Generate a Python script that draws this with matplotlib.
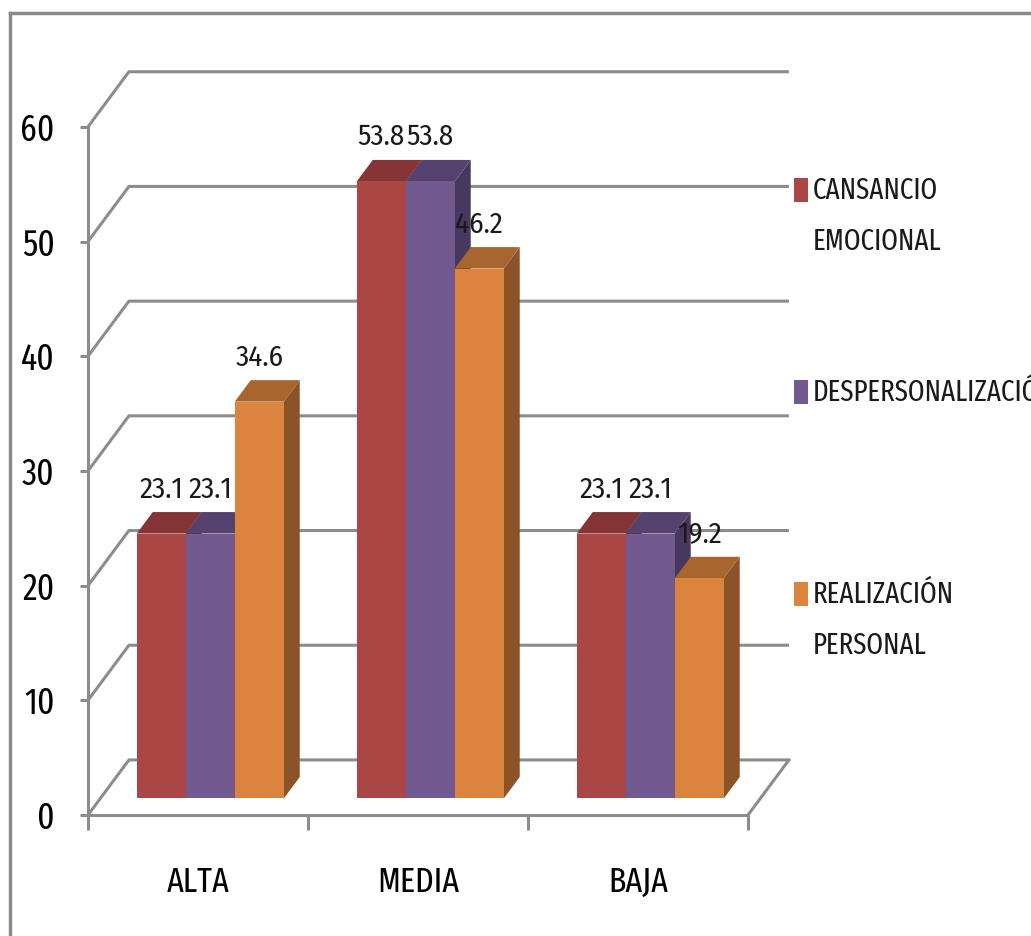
import matplotlib.pyplot as plt
from matplotlib.patches import Polygon, Rectangle
from matplotlib.lines import Line2D

# data
categories = ['ALTA', 'MEDIA', 'BAJA']
series_names = ['CANSANCIO\nEMOCIONAL', 'DESPERSONALIZACIÓN', 'REALIZACIÓN\nPERSONAL']
cansancio = [23.1, 53.8, 23.1]
despersonalizacion = [23.1, 53.8, 23.1]
realizacion = [34.6, 46.2, 19.2]
y_ticks = [0, 10, 20, 30, 40, 50, 60]

series = [cansancio, despersonalizacion, realizacion]
front_colors = ['#AA4643', '#71588F', '#DB843D']
top_colors = ['#853535', '#56426F', '#A9652E']
side_colors = ['#6E2B2A', '#48375E', '#8C5328']
grid_color = '#8C8C8C'

plt.rcParams['font.family'] = ['Fira Sans Extra Condensed', 'DejaVu Sans']
plt.rcParams['text.color'] = '#1A1A1A'
label_font = ['Fira Sans Condensed', 'DejaVu Sans']

W, H = 1031, 936
fig = plt.figure(figsize=(W / 100, H / 100), dpi=100)

# axes placed so data (0,0) sits on the front-left floor corner
x0px, y0px, x1px, y1px = 88, 815, 790, 72
ax = fig.add_axes([x0px / W, 1 - y0px / H, (x1px - x0px) / W, (y0px - y1px) / H])
ax.set_xlim(0, (x1px - x0px) / 220)
ax.set_ylim(0, (y0px - y1px) / 11.47)

# depth of the 3d box (in data units) and where the bars sit inside it
DX, DY = 0.186, 4.8
f0, f1 = 0.30, 0.69
bar_w = 0.2227

# back wall gridlines + floor
for v in y_ticks:
    ax.plot([0, DX, 3 + DX], [v, v + DY, v + DY], color=grid_color, lw=2.2, zorder=1,
            clip_on=False, solid_capstyle='butt')
ax.plot([3, 3 + DX], [0, DY], color=grid_color, lw=2.2, zorder=1, clip_on=False)

# spines / ticks
for s in ['top', 'right']:
    ax.spines[s].set_visible(False)
ax.spines['left'].set_bounds(0, 60)
ax.spines['bottom'].set_bounds(0, 3)
for s in ['left', 'bottom']:
    ax.spines[s].set_color(grid_color)
    ax.spines[s].set_linewidth(2.2)
    ax.spines[s].set_zorder(1)
ax.set_yticks(y_ticks)
ax.set_yticklabels([str(t) for t in y_ticks], fontsize=26)
ax.tick_params(axis='y', length=6, width=2.2, color=grid_color, pad=18)
ax.set_xticks([0, 1, 2, 3])
ax.set_xticklabels([])
ax.tick_params(axis='x', which='major', length=11, width=2.2, color=grid_color)
ax.set_xticks([0.5, 1.5, 2.5], minor=True)
ax.set_xticklabels(categories, minor=True, fontsize=25)
ax.tick_params(axis='x', which='minor', length=0, pad=36)
ax.patch.set_visible(False)

# 3d-looking bars
for i, cat in enumerate(categories):
    start = i + 0.5 - 1.5 * bar_w
    for j, vals in enumerate(series):
        v = vals[i]
        xl = start + j * bar_w + f0 * DX
        xr = xl + bar_w
        yb = f0 * DY
        ddx, ddy = (f1 - f0) * DX, (f1 - f0) * DY
        side = Polygon([(xr, yb), (xr, yb + v), (xr + ddx, yb + v + ddy), (xr + ddx, yb + ddy)],
                       closed=True, facecolor=side_colors[j], edgecolor='none', zorder=2)
        ax.add_patch(side)
        top = Polygon([(xl, yb + v), (xr, yb + v), (xr + ddx, yb + v + ddy), (xl + ddx, yb + v + ddy)],
                      closed=True, facecolor=top_colors[j], edgecolor='none', zorder=2)
        ax.add_patch(top)
        ax.bar(xl + bar_w / 2, v, width=bar_w, bottom=yb, color=front_colors[j],
               edgecolor='none', zorder=2)
        ax.text(xl + bar_w / 2, v + f1 * DY + 0.75, f'{v:.1f}', ha='center', va='bottom',
                fontsize=21, family=label_font, zorder=5)

# legend drawn by hand, like the original
leg_y = [190, 392, 594]
for name, col, yc in zip(series_names, front_colors, leg_y):
    fig.patches.append(Rectangle((794 / W, 1 - (yc + 12) / H), 14 / W, 24 / H,
                                 transform=fig.transFigure, facecolor=col, edgecolor='none'))
    fig.text(813 / W, 1 - (yc - 14) / H, name, ha='left', va='top', fontsize=21,
             linespacing=2.0)

# outer chart border
fig.lines.append(Line2D([10 / W, 10 / W], [0, 1 - 13 / H], transform=fig.transFigure,
                        color='#8A8A8A', lw=2.5))
fig.lines.append(Line2D([10 / W, 1], [1 - 13 / H, 1 - 13 / H], transform=fig.transFigure,
                        color='#8A8A8A', lw=2.5))

fig.savefig('out.png', dpi=100)
